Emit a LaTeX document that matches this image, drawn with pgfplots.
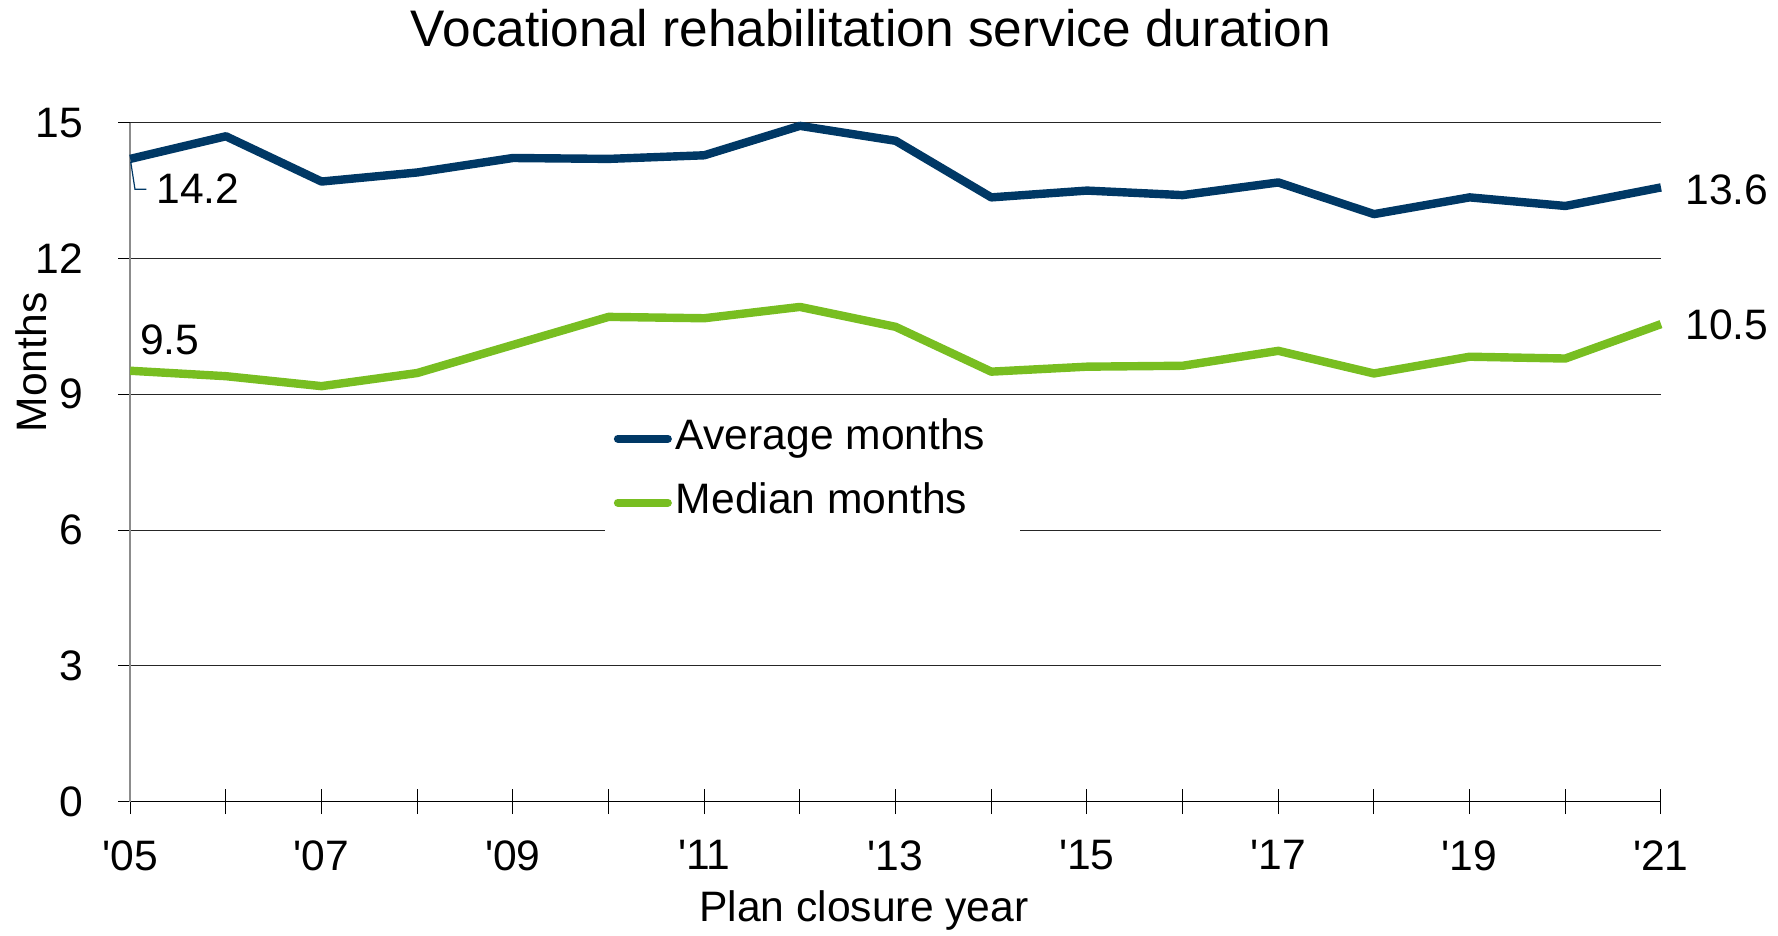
\documentclass[border=0pt]{standalone}
\usepackage{pgfplots}
\pgfplotsset{compat=1.18}
\usepackage{fontspec}
\setmainfont{Liberation Sans}
\definecolor{mnnavy}{HTML}{003865}
\definecolor{mngreen}{HTML}{78BE21}
\newcommand\f{\fontsize{21.3}{25}\selectfont}
\begin{document}
\begin{tikzpicture}
\useasboundingbox (0,0) rectangle (889pt,468pt);
\node[anchor=base,font=\fontsize{25.7}{30}\selectfont] at (435.5pt,444.65pt) {Vocational rehabilitation service duration};
\node[anchor=base,rotate=90,font=\f] at (23.35pt,286.75pt) {Months};
\node[anchor=base,font=\f] at (432pt,7pt) {Plan closure year};
\begin{axis}[
  at={(65.1pt,67.15pt)}, anchor=south west,
  scale only axis, width=765.4pt, height=339.5pt,
  xmin=2005, xmax=2021, ymin=0, ymax=15,
  axis lines*=left,
  x axis line style={black, line width=0.7pt},
  y axis line style={black!45, line width=1pt},
  xtick={2005,...,2021},
  xticklabels={\textquotesingle05,,\textquotesingle07,,\textquotesingle09,,\textquotesingle11,,\textquotesingle13,,\textquotesingle15,,\textquotesingle17,,\textquotesingle19,,\textquotesingle21},
  ytick={0,3,6,9,12,15},
  xtick align=center, ytick align=outside,
  xtick style={black, line width=0.5pt, /pgfplots/major tick length=12.5pt},
  ytick style={black, line width=0.5pt, /pgfplots/major tick length=6pt},
  ymajorgrids, grid style={black!85, line width=0.5pt},
  /pgf/number format/assume math mode=true,
  ticklabel style={font=\f},
  xticklabel style={inner sep=0pt, anchor=north, yshift=-17pt},
  yticklabel style={inner sep=0pt, anchor=east, xshift=-19pt},
  clip=false,
  legend cell align=left,
  legend image code/.code={\draw[#1, line width=4pt, line cap=round] (2pt,0pt) -- (27pt,0pt);},
  legend style={at={(0.3157,0.5661)}, anchor=north west, draw=none, fill=none,
    inner sep=0pt, row sep=11pt, column sep=2pt, font=\f,
    nodes={inner sep=0pt, text height=16pt, text depth=5pt}},
]
\fill[white] (axis cs:2009.963,5.5) rectangle (axis cs:2014.30,6.5);
\addplot[mnnavy, line width=4.2pt, line join=round] coordinates {
(2005,14.2) (2006,14.7) (2007,13.7) (2008,13.9) (2009,14.22) (2010,14.2)
(2011,14.28) (2012,14.93) (2013,14.6) (2014,13.35) (2015,13.5) (2016,13.4)
(2017,13.68) (2018,12.98) (2019,13.35) (2020,13.16) (2021,13.57)};
\addlegendentry{Average months}
\addplot[mngreen, line width=4.2pt, line join=round] coordinates {
(2005,9.52) (2006,9.4) (2007,9.18) (2008,9.47) (2009,10.09) (2010,10.71)
(2011,10.68) (2012,10.93) (2013,10.49) (2014,9.5) (2015,9.61) (2016,9.63)
(2017,9.96) (2018,9.46) (2019,9.83) (2020,9.79) (2021,10.55)};
\addlegendentry{Median months}
\draw[mnnavy, line width=0.6pt] (axis cs:2005.005,14.14) -- (axis cs:2005.05,13.53) -- (axis cs:2005.17,13.53);
\node[font=\f] at (axis cs:2005.709,13.535) {14.2};
\node[font=\f] at (axis cs:2005.415,10.20) {9.5};
\node[font=\f] at (axis cs:2021.688,13.524) {13.6};
\node[font=\f] at (axis cs:2021.688,10.531) {10.5};
\end{axis}
\end{tikzpicture}
\end{document}
